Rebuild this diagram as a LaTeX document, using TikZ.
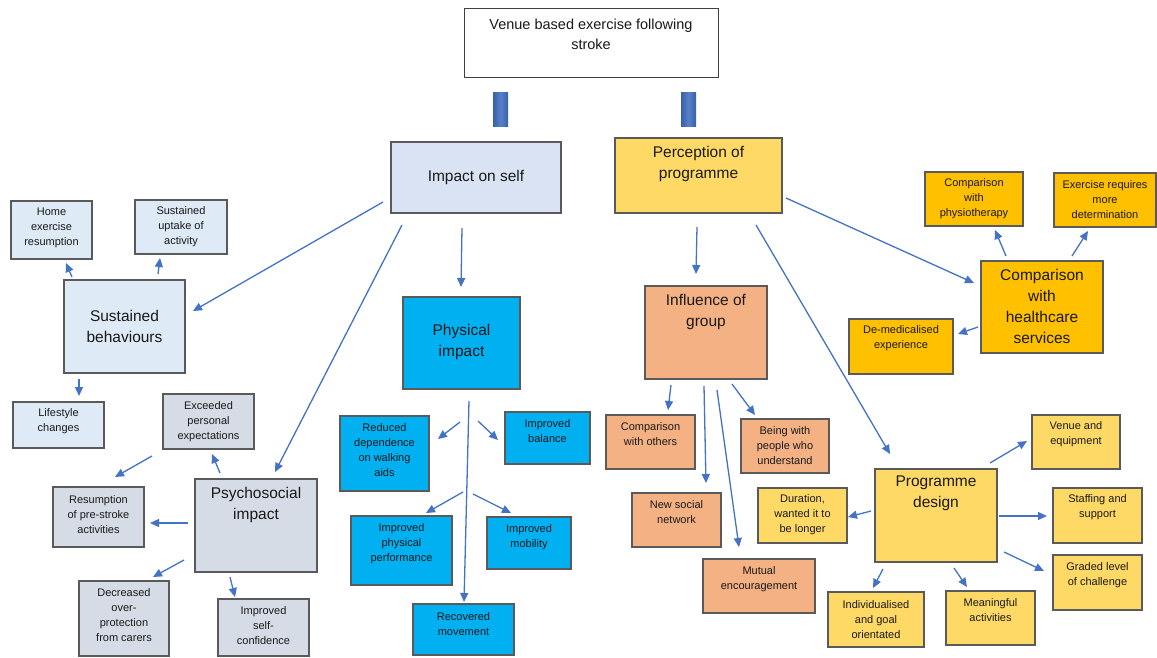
\documentclass[tikz,border=0pt]{standalone}
\usepackage{fontspec}
\setmainfont{Liberation Sans}
\usetikzlibrary{arrows.meta}
\definecolor{arrowc}{HTML}{4472C4}
\definecolor{borderc}{HTML}{5A5A5A}
\definecolor{lblue}{HTML}{DEEAF6}
\definecolor{iself}{HTML}{DAE3F3}
\definecolor{lgray}{HTML}{D6DCE5}
\definecolor{cyanb}{HTML}{00B0F0}
\definecolor{orangeb}{HTML}{F4B183}
\definecolor{yellowb}{HTML}{FFD966}
\definecolor{goldb}{HTML}{FFC000}
\tikzset{
  boxsty/.style={draw=borderc, line width=1.3pt, inner sep=0pt, outer sep=0pt},
  smalltxt/.style={font=\fontsize{11}{15}\selectfont, align=center, inner sep=0pt, text=black!90},
  bigtxt/.style={font=\fontsize{15.5}{21}\selectfont, align=center, inner sep=0pt, text=black!90},
  titletxt/.style={font=\fontsize{14.5}{20}\selectfont, align=center, inner sep=0pt, text=black!90},
  arr/.style={draw=arrowc, line width=1.3pt, -{Triangle[length=9pt,width=8pt]}},
  barsty/.style={left color=arrowc!85!black, right color=arrowc!85!black, middle color=arrowc!90!white}
}
% name, fill, text style, x1, y1, x2, y2, text centre y, text
\newcommand{\bx}[9]{%
  \node[boxsty, fill=#2, anchor=north west, minimum width={#6-#4}, minimum height={#7-#5}] (#1) at (#4,#5) {};
  \node[#3, anchor=center] (#1-t) at ({(#4+#6)/2},#8) {#9};}
% name, x1, y1, x2, y2
\newcommand{\arw}[5]{%
  \coordinate (#1-s) at (#2,#3);
  \coordinate (#1-e) at (#4,#5);
  \draw[arr] (#1-s) -- (#1-e);}
\begin{document}
\begin{tikzpicture}[x=1pt,y=-1pt]
\useasboundingbox (0,0) rectangle (1157,657);
\fill[white] (0,0) rectangle (1157,657);

% title
\node[draw=black!75, line width=1pt, fill=white, anchor=north west, minimum width=254, minimum height=69, inner sep=0pt] (title) at (464,8) {};
\node[titletxt] (title-t) at (591,34) {Venue based exercise following\\stroke};
\shade[barsty] (493,92) rectangle (508,126);
\shade[barsty] (681,92) rectangle (696,126);

% main branches
\bx{self}{iself}{bigtxt}{391}{142}{561}{213}{177}{Impact on self}
\bx{perc}{yellowb}{bigtxt}{615}{138}{782}{213}{163.5}{Perception of\\programme}

% sustained behaviours
\bx{sust}{lblue}{bigtxt}{64}{280}{185}{373}{326}{Sustained\\behaviours}
\bx{home}{lblue}{smalltxt}{11}{201}{92}{259}{228}{Home\\exercise\\resumption}
\bx{uptake}{lblue}{smalltxt}{135}{200}{227}{254}{227}{Sustained\\uptake of\\activity}
\bx{life}{lblue}{smalltxt}{13}{402}{104}{448}{421.5}{Lifestyle\\changes}

% psychosocial
\bx{psy}{lgray}{bigtxt}{195}{479}{317}{572}{504.5}{Psychosocial\\impact}
\bx{exc}{lgray}{smalltxt}{163}{394}{254}{449}{422}{Exceeded\\personal\\expectations}
\bx{resum}{lgray}{smalltxt}{53}{487}{144}{547}{515}{Resumption\\of pre-stroke\\activities}
\bx{decr}{lgray}{smalltxt}{79}{581}{169}{656}{615.5}{Decreased\\over-\\protection\\from carers}
\bx{conf}{lgray}{smalltxt}{218}{599}{309}{656}{626}{Improved\\self-\\confidence}

% physical
\bx{phys}{cyanb}{bigtxt}{403}{297}{520}{389}{342}{Physical\\impact}
\bx{redu}{cyanb}{smalltxt}{340}{416}{429}{491}{450.5}{Reduced\\dependence\\on walking\\aids}
\bx{bal}{cyanb}{smalltxt}{505}{412}{590}{464}{431.5}{Improved\\balance}
\bx{perf}{cyanb}{smalltxt}{351}{516}{452}{585}{544}{Improved\\physical\\performance}
\bx{mob}{cyanb}{smalltxt}{487}{517}{571}{569}{537}{Improved\\mobility}
\bx{recov}{cyanb}{smalltxt}{413}{604}{514}{655}{624.5}{Recovered\\movement}

% group
\bx{grp}{orangeb}{bigtxt}{645}{286}{767}{379}{311.5}{Influence of\\group}
\bx{cmpo}{orangeb}{smalltxt}{606}{415}{695}{469}{434.5}{Comparison\\with others}
\bx{being}{orangeb}{smalltxt}{741}{419}{829}{473}{446}{Being with\\people who\\understand}
\bx{newsn}{orangeb}{smalltxt}{632}{493}{721}{547}{512.5}{New social\\network}
\bx{mutual}{orangeb}{smalltxt}{703}{559}{815}{613}{579}{Mutual\\encouragement}

% healthcare
\bx{hc}{goldb}{bigtxt}{981}{261}{1103}{353}{306}{Comparison\\with\\healthcare\\services}
\bx{physio}{goldb}{smalltxt}{925}{172}{1023}{226}{199}{Comparison\\with\\physiotherapy}
\bx{deter}{goldb}{smalltxt}{1054}{173}{1156}{227}{200}{Exercise requires\\more\\determination}
\bx{demed}{goldb}{smalltxt}{849}{319}{953}{374}{338.5}{De-medicalised\\experience}

% programme design
\bx{prog}{yellowb}{bigtxt}{875}{469}{997}{562}{493.5}{Programme\\design}
\bx{venue}{yellowb}{smalltxt}{1032}{415}{1120}{469}{434.5}{Venue and\\equipment}
\bx{staff}{yellowb}{smalltxt}{1053}{488}{1142}{543}{507.5}{Staffing and\\support}
\bx{graded}{yellowb}{smalltxt}{1053}{555}{1142}{610}{575.5}{Graded level\\of challenge}
\bx{mean}{yellowb}{smalltxt}{946}{591}{1035}{645}{610.5}{Meaningful\\activities}
\bx{indiv}{yellowb}{smalltxt}{828}{592}{924}{647}{620}{Individualised\\and goal\\orientated}
\bx{dur}{yellowb}{smalltxt}{758}{488}{847}{543}{515}{Duration,\\wanted it to\\be longer}

% arrows: impact on self
\arw{a1}{383}{202}{193}{311}
\arw{a2}{402}{225}{275}{472}
\arw{a3}{462}{228}{461}{287}
% sustained
\arw{a4}{72}{277}{66}{263}
\arw{a5}{158}{274}{160}{258}
\arw{a6}{79}{379}{79}{396}
% psychosocial
\arw{a7}{220}{473}{212}{454}
\arw{a8}{152}{456}{115}{477}
\arw{a9}{188}{523}{150}{523}
\arw{a10}{184}{560}{153}{577}
\arw{a11}{230}{577}{235}{597}
% physical
\arw{a12}{460}{422}{438}{439}
\arw{a13}{478}{421}{498}{440}
\arw{a14}{463}{492}{426}{513}
\arw{a15}{473}{494}{511}{513}
\arw{a16}{469}{401}{464}{602}
% perception
\arw{a17}{697}{227}{696}{274}
\arw{a18}{756}{225}{890}{454}
\arw{a19}{786}{198}{974}{283}
% group
\arw{a20}{671}{385}{668}{410}
\arw{a21}{704}{386}{706}{483}
\arw{a22}{717}{390}{739}{547}
\arw{a23}{732}{384}{755}{415}
% healthcare
\arw{a24}{1006}{256}{995}{230}
\arw{a25}{1072}{256}{1088}{231}
\arw{a26}{978}{327}{958}{334}
% programme design
\arw{a27}{990}{463}{1027}{441}
\arw{a28}{999}{516}{1047}{516}
\arw{a29}{1004}{552}{1044}{571}
\arw{a30}{871}{511}{848}{517}
\arw{a31}{883}{569}{873}{588}
\arw{a32}{954}{568}{967}{587}
\end{tikzpicture}
\end{document}
